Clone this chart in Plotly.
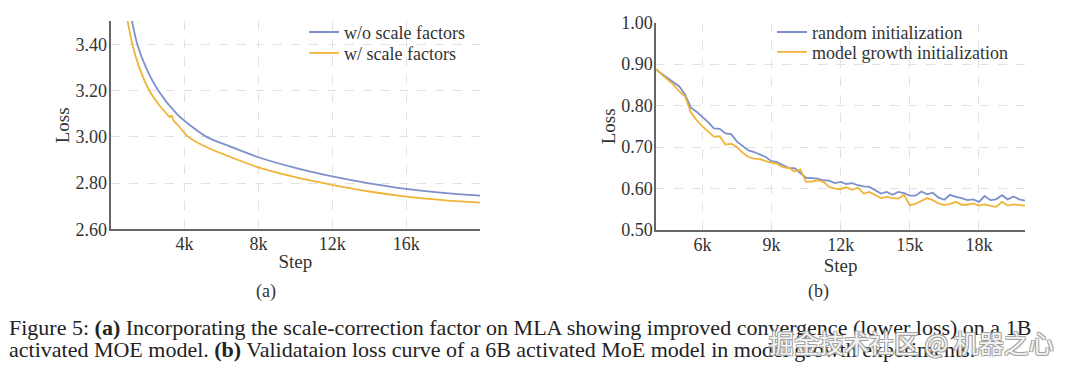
import plotly.graph_objects as go

# ---------- data: panel (a) ----------
a_wo_steps = [1100, 1440, 1908, 2575, 3567, 4300, 5190, 6450, 8000, 10000, 12000, 14000, 16000, 18000, 20000]
a_wo_loss = [3.52, 3.40, 3.30, 3.20, 3.10, 3.05, 3.00, 2.959, 2.912, 2.866, 2.829, 2.799, 2.775, 2.758, 2.746]
a_w_steps = [870, 1170, 1547, 2090, 2600, 3027, 3200, 3300, 3400, 3700, 4200, 5200, 6450, 8000, 10000, 12000, 14000, 16000, 18000, 20000]
a_w_loss = [3.52, 3.40, 3.30, 3.20, 3.14, 3.10, 3.085, 3.092, 3.072, 3.045, 3.00, 2.955, 2.914, 2.868, 2.826, 2.793, 2.764, 2.742, 2.727, 2.716]

# ---------- data: panel (b) ----------
b_steps = [4000, 4250, 4500, 4750, 5000, 5250, 5500, 5750, 6000, 6250, 6500, 6750, 7000, 7250, 7500, 7750,
           8000, 8250, 8500, 8750, 9000, 9250, 9500, 9750, 10000, 10250, 10500, 10750, 11000, 11250, 11500, 11750,
           12000, 12250, 12500, 12750, 13000, 13250, 13500, 13750, 14000, 14250, 14500, 14750, 15000, 15250, 15500, 15750,
           16000, 16250, 16500, 16750, 17000, 17250, 17500, 17750, 18000, 18250, 18500, 18750, 19000, 19250, 19500, 19750, 20000]
b_random = [0.886, 0.876, 0.866, 0.856, 0.846, 0.826, 0.795, 0.785, 0.773, 0.760, 0.745, 0.744, 0.733, 0.731, 0.713, 0.703,
            0.692, 0.688, 0.681, 0.676, 0.666, 0.664, 0.656, 0.650, 0.649, 0.638, 0.626, 0.625, 0.624, 0.620, 0.619, 0.613,
            0.616, 0.611, 0.613, 0.608, 0.605, 0.604, 0.596, 0.588, 0.592, 0.585, 0.592, 0.589, 0.583, 0.583, 0.593, 0.586,
            0.590, 0.578, 0.573, 0.585, 0.580, 0.577, 0.572, 0.574, 0.568, 0.582, 0.572, 0.574, 0.584, 0.574, 0.581, 0.574, 0.571]
b_growth = [0.889, 0.874, 0.862, 0.850, 0.834, 0.822, 0.784, 0.765, 0.750, 0.738, 0.725, 0.726, 0.706, 0.708, 0.700, 0.686,
            0.676, 0.672, 0.671, 0.666, 0.662, 0.660, 0.651, 0.650, 0.641, 0.646, 0.616, 0.617, 0.620, 0.616, 0.604, 0.600,
            0.599, 0.603, 0.597, 0.602, 0.588, 0.592, 0.584, 0.577, 0.580, 0.577, 0.576, 0.585, 0.560, 0.563, 0.570, 0.577,
            0.572, 0.564, 0.560, 0.563, 0.568, 0.561, 0.561, 0.564, 0.559, 0.562, 0.558, 0.556, 0.568, 0.559, 0.562, 0.561, 0.559]

a_xticks = [4000, 8000, 12000, 16000]
a_xlabels = ["4k", "8k", "12k", "16k"]
a_yticks = [2.60, 2.80, 3.00, 3.20, 3.40]
b_xticks = [6000, 9000, 12000, 15000, 18000]
b_xlabels = ["6k", "9k", "12k", "15k", "18k"]
b_yticks = [0.50, 0.60, 0.70, 0.80, 0.90, 1.00]

caption_1 = "Figure 5: <b>(a)</b> Incorporating the scale-correction factor on MLA showing improved convergence (lower loss) on a 1B"
caption_2 = "activated MOE model. <b>(b)</b> Validataion loss curve of a 6B activated MoE model in model growth experiments."
watermark = "掘金技术社区 @ 机器之心"

BLUE = "#7d90cc"
ORANGE = "#f0b437"
SERIF = "Liberation Serif, Times New Roman, serif"
TXT = "#333333"
W, H = 1080, 379


def px_x(p):
    return p / W


def px_y(p):
    return 1 - p / H


fig = go.Figure()
fig.add_trace(go.Scatter(x=a_wo_steps, y=a_wo_loss, mode="lines", name="w/o scale factors",
                         line=dict(color=BLUE, width=1.8, shape="spline", smoothing=0.8),
                         xaxis="x", yaxis="y", legend="legend"))
fig.add_trace(go.Scatter(x=a_w_steps, y=a_w_loss, mode="lines", name="w/ scale factors",
                         line=dict(color=ORANGE, width=1.8, shape="spline", smoothing=0.6),
                         xaxis="x", yaxis="y", legend="legend2"))
fig.add_trace(go.Scatter(x=b_steps, y=b_random, mode="lines", name="random initialization",
                         line=dict(color=BLUE, width=1.8),
                         xaxis="x2", yaxis="y2", legend="legend3"))
fig.add_trace(go.Scatter(x=b_steps, y=b_growth, mode="lines", name="model growth initialization",
                         line=dict(color=ORANGE, width=1.8),
                         xaxis="x2", yaxis="y2", legend="legend4"))

axis_common = dict(
    showline=True, linecolor="#666666", linewidth=2, mirror=False,
    showgrid=True, gridcolor="#e2e2e2", griddash="dash", gridwidth=1,
    zeroline=False, ticks="", tickfont=dict(family=SERIF, size=18, color=TXT),
)
xcommon = dict(ticklabelstandoff=-3, **axis_common)
ycommon = dict(ticklabelstandoff=-2, **axis_common)
title_font = dict(family=SERIF, size=19, color=TXT)


def leg(x, y):
    return dict(x=px_x(x), y=px_y(y), xanchor="left", yanchor="top", bgcolor="rgba(0,0,0,0)",
                font=dict(family=SERIF, size=18, color=TXT), borderwidth=0)


fig.update_layout(
    width=W, height=H,
    margin=dict(l=0, r=0, t=0, b=0),
    paper_bgcolor="white", plot_bgcolor="white",
    font=dict(family=SERIF, color=TXT),
    showlegend=True,
    xaxis=dict(domain=[px_x(110.7), px_x(480)], range=[0, 20000], tickvals=a_xticks, ticktext=a_xlabels,
               anchor="y", title=dict(text="Step", font=title_font, standoff=2), **xcommon),
    yaxis=dict(domain=[px_y(231.7), px_y(11.7)], range=[2.60, 3.50], tickvals=a_yticks,
               tickformat=".2f", anchor="x",
               title=dict(text="Loss", font=title_font, standoff=1), **ycommon),
    xaxis2=dict(domain=[px_x(656.3), px_x(1025)], range=[4000, 20000], tickvals=b_xticks, ticktext=b_xlabels,
                anchor="y2", title=dict(text="Step", font=title_font, standoff=2), **xcommon),
    yaxis2=dict(domain=[px_y(232.3), px_y(13.3)], range=[0.50, 1.00], tickvals=b_yticks,
                tickformat=".2f", anchor="x2",
                title=dict(text="Loss", font=title_font, standoff=1), **ycommon),
    legend=leg(304, 4),
    legend2=leg(304, 26),
    legend3=leg(772, 4),
    legend4=leg(772, 25),
)

annos = [
    dict(text="(a)", x=px_x(266), y=px_y(297), xanchor="center", yanchor="middle",
         font=dict(family=SERIF, size=18, color=TXT)),
    dict(text="(b)", x=px_x(818), y=px_y(297), xanchor="center", yanchor="middle",
         font=dict(family=SERIF, size=18, color=TXT)),
    dict(text=caption_1, x=px_x(7), y=px_y(335), xanchor="left", yanchor="middle",
         font=dict(family=SERIF, size=22, color="#222222")),
    dict(text=caption_2, x=px_x(7), y=px_y(358.5), xanchor="left", yanchor="middle",
         font=dict(family=SERIF, size=22, color="#222222")),
    dict(text=watermark, x=px_x(911), y=px_y(351), xanchor="center", yanchor="middle",
         font=dict(family="Noto Sans CJK SC", size=25, color="rgba(255,255,255,0.9)",
                   shadow="1px 1px 0 #a0a0a0, -1px -1px 0 #a0a0a0, 1px -1px 0 #a0a0a0, -1px 1px 0 #a0a0a0")),
]
for a in annos:
    a.update(xref="paper", yref="paper", showarrow=False)
fig.update_layout(annotations=annos)

fig.write_html("out.html", config={"displayModeBar": False},
               post_script="document.body.style.margin='0';document.documentElement.style.overflow='hidden';")
